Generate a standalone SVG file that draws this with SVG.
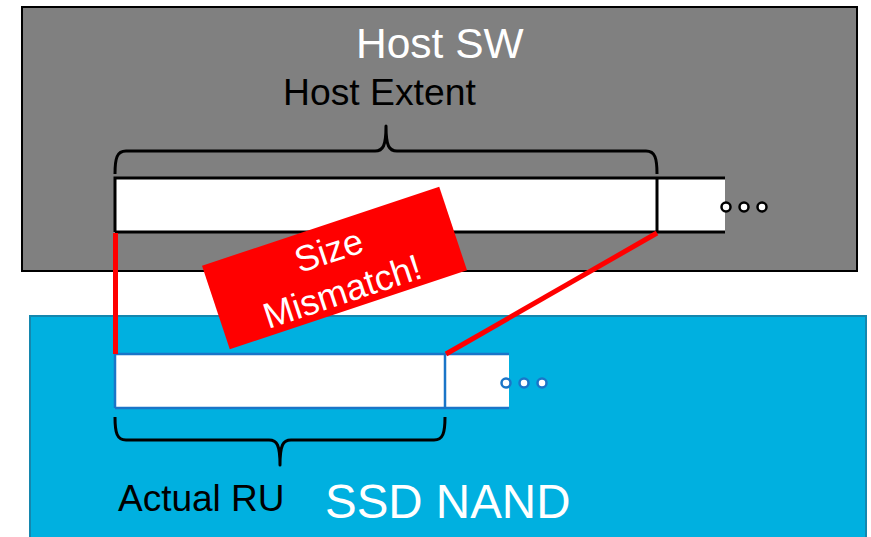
<svg xmlns="http://www.w3.org/2000/svg" width="871" height="537" viewBox="0 0 871 537">
  <style>
    .lbl { font-family: "Liberation Sans", Arial, sans-serif; }
    .brace { fill: none; stroke: #000; stroke-width: 3; stroke-linejoin: round; }
    .red { stroke: #FF0000; stroke-width: 5; fill: none; }
  </style>
  <rect width="871" height="537" fill="#fff"/>

  <!-- Host software layer -->
  <g id="host-sw">
    <rect x="22" y="7" width="835" height="264" fill="#808080" stroke="#000" stroke-width="2"/>
    <text class="lbl" x="356" y="58" font-size="42.5" fill="#fff">Host SW</text>
  </g>

  <!-- Host extent strip -->
  <g id="host-extent">
    <text class="lbl" x="283" y="105" font-size="37.3" fill="#000">Host Extent</text>
    <path class="brace" d="M115,174 C115,158 117,151 126,151 L375,151 C383,151 386,146 386,126 C386,146 389,151 397,151 L646,151 C655,151 657,158 657,174"/>
    <rect x="115" y="178" width="610" height="54" fill="#fff"/>
    <path d="M115,232 L115,178 L725,178 M115,232 L725,232 M657,178 L657,232" fill="none" stroke="#000" stroke-width="3"/>
    <g fill="#fff" stroke="#000" stroke-width="2.5">
      <circle cx="726" cy="207" r="4.5"/>
      <circle cx="744" cy="207" r="4.5"/>
      <circle cx="762" cy="207" r="4.5"/>
    </g>
  </g>

  <!-- SSD NAND layer -->
  <g id="ssd-nand">
    <rect x="30" y="316" width="836" height="230" fill="#00B0E0" stroke="#1487AE" stroke-width="2"/>
    <text class="lbl" x="325" y="518" font-size="47.5" fill="#fff">SSD NAND</text>
  </g>

  <!-- Reclaim unit strip -->
  <g id="actual-ru">
    <rect x="115" y="354" width="394" height="54" fill="#fff"/>
    <path d="M115,408 L115,354 L509,354 M115,408 L509,408 M445,354 L445,408" fill="none" stroke="#1A75C8" stroke-width="2.5"/>
    <g fill="#fff" stroke="#1A75C8" stroke-width="2.5">
      <circle cx="506" cy="383" r="4.5"/>
      <circle cx="524" cy="383" r="4.5"/>
      <circle cx="542" cy="383" r="4.5"/>
    </g>
    <path class="brace" d="M115,417 C115,433 117,440 126,440 L269,440 C277,440 280,445 280,465 C280,445 283,440 291,440 L434,440 C443,440 445,433 445,417"/>
    <text class="lbl" x="118" y="511" font-size="37" fill="#000">Actual RU</text>
  </g>

  <!-- Connectors between extent and RU boundaries -->
  <g id="connectors">
    <line class="red" x1="115.5" y1="233" x2="115.5" y2="354"/>
    <line class="red" x1="657" y1="233" x2="446" y2="354"/>
  </g>

  <!-- Mismatch callout -->
  <g id="mismatch" transform="translate(334.5 268) rotate(-18.4)">
    <rect x="-125" y="-44" width="250" height="88" fill="#FF0000"/>
    <text class="lbl" x="0" y="-6" font-size="36" fill="#fff" text-anchor="middle">Size</text>
    <text class="lbl" x="0" y="37" font-size="36" fill="#fff" text-anchor="middle">Mismatch!</text>
  </g>
</svg>
